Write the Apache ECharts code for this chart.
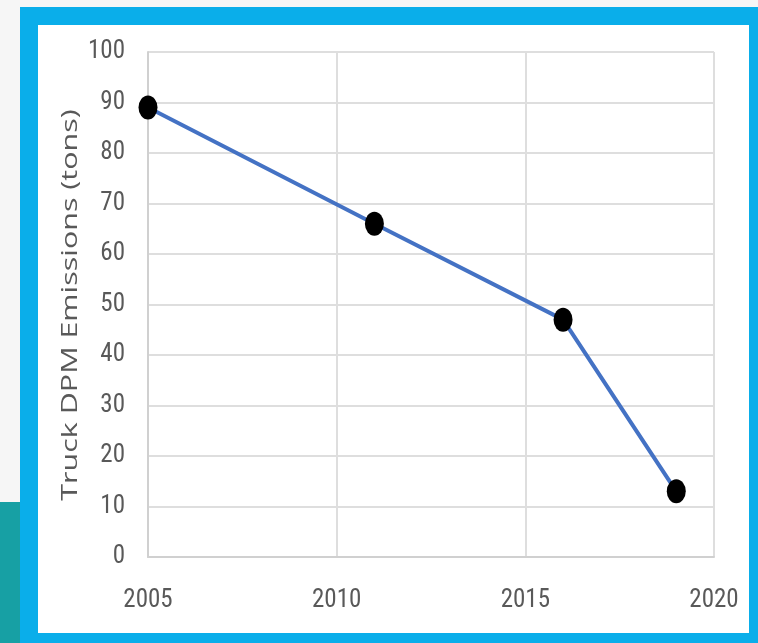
<!DOCTYPE html>
<html>
<head>
<meta charset="utf-8">
<script src="https://cdn.jsdelivr.net/npm/echarts@6/dist/echarts.min.js"></script>
<style>
html,body{margin:0;padding:0;background:#f6f6f6;}
#chart{width:758px;height:643px;}
</style>
</head>
<body>
<div id="chart"></div>
<script>
const years = [2005, 2011, 2016, 2019];
const emissions = [89, 66, 47, 13];
const xTicks = [2005, 2010, 2015, 2020];
const yTicks = [0, 10, 20, 30, 40, 50, 60, 70, 80, 90, 100];
const yTitle = 'Truck DPM Emissions (tons)';

const chart = echarts.init(document.getElementById('chart'));
const tickFont = '"Roboto Condensed", "Open Sans", sans-serif';
chart.setOption({
  animation: false,
  backgroundColor: '#f6f6f6',
  graphic: [
    { type: 'rect', shape: { x: 0, y: 502, width: 22, height: 141 }, style: { fill: '#17a0a4' }, z: 0 },
    { type: 'rect', shape: { x: 20, y: 7, width: 738, height: 636 }, style: { fill: '#0aaeea' }, z: 0 },
    { type: 'rect', shape: { x: 38, y: 25, width: 711, height: 608 }, style: { fill: '#ffffff' }, z: 0 },
    { type: 'text', x: 71, y: 305, rotation: Math.PI / 2, scaleX: 1.45, z: 10,
      style: { text: yTitle, font: '21px "Open Sans", sans-serif', fill: '#595959', align: 'center', verticalAlign: 'middle' } }
  ],
  grid: { left: 148, right: 44, top: 52, bottom: 86 },
  xAxis: {
    type: 'value', min: xTicks[0], max: xTicks[xTicks.length - 1], interval: 5,
    axisLine: { show: true, lineStyle: { color: '#d0d0d0', width: 2 } },
    axisTick: { show: false },
    axisLabel: { color: '#595959', fontSize: 25, fontFamily: tickFont, margin: 31, formatter: v => String(v) },
    splitLine: { show: true, lineStyle: { color: '#dedede', width: 2 } }
  },
  yAxis: {
    type: 'value', min: yTicks[0], max: yTicks[yTicks.length - 1], interval: 10,
    axisLine: { show: true, lineStyle: { color: '#d0d0d0', width: 2 } },
    axisTick: { show: false },
    axisLabel: { color: '#595959', fontSize: 25, fontFamily: tickFont, margin: 23 },
    splitLine: { show: true, lineStyle: { color: '#dedede', width: 2 } }
  },
  series: [{
    type: 'line',
    data: years.map((y, i) => [y, emissions[i]]),
    lineStyle: { color: '#4472c4', width: 4 },
    itemStyle: { color: '#000000' },
    symbol: 'circle', symbolSize: [19, 24],
    z: 5
  }]
});
</script>
</body>
</html>
